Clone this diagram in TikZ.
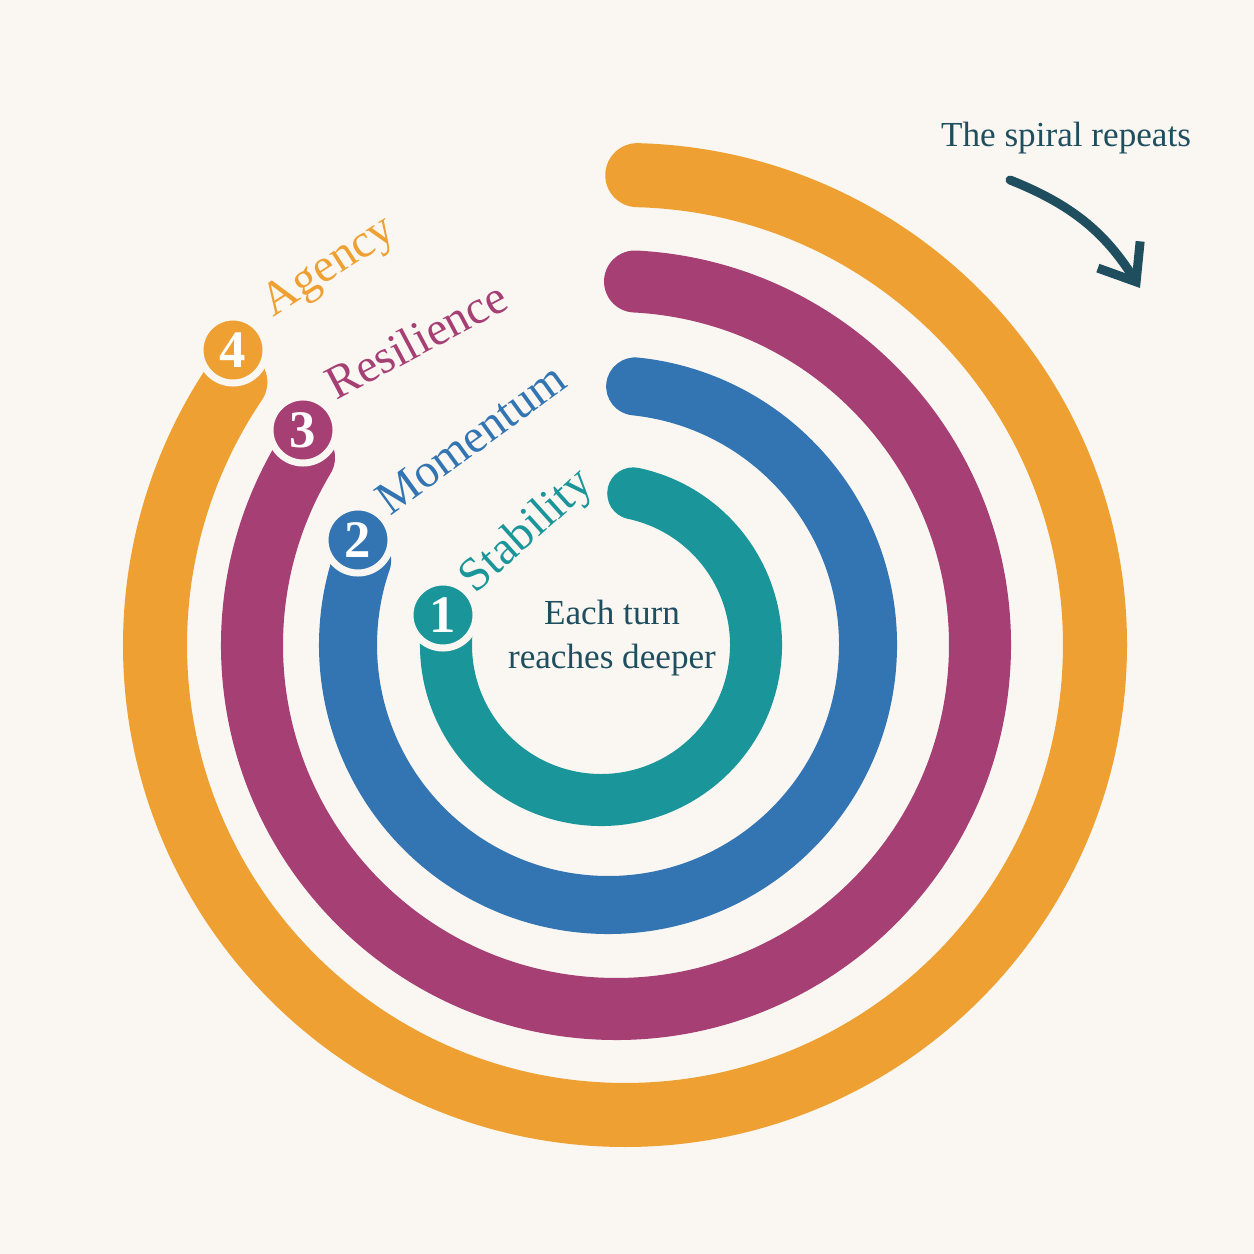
\documentclass[tikz,border=0pt]{standalone}
\usepackage{fontspec}
\setmainfont{Liberation Serif}
\usetikzlibrary{arrows.meta}
\definecolor{bg}{HTML}{FAF7F2}
\definecolor{cteal}{HTML}{1A9599}
\definecolor{cblue}{HTML}{3375B2}
\definecolor{cmag}{HTML}{A63F74}
\definecolor{corange}{HTML}{EEA132}
\definecolor{cdark}{HTML}{1F4E5F}
\tikzset{
  band/.style={line width=#1, line cap=round},
  badge/.style={circle, fill=#1, draw=bg, line width=0.07cm, minimum size=0.66cm, inner sep=0pt,
    text=white, font=\fontsize{15}{15}\selectfont\bfseries},
  steplabel/.style={text=#1, font=\fontsize{13.5}{15}\selectfont}
}
\begin{document}
\begin{tikzpicture}[x=0.01cm,y=0.01cm]
      \fill[bg] (0,0) rectangle (1254,1254);
      \useasboundingbox (0,0) rectangle (1254,1254);

      % bands
      \draw[band=0.52cm, cteal]   (601,609) ++(78:155) arc[start angle=78, end angle=-188, radius=155];
      \draw[band=0.58cm, cblue]   (608,609) ++(84:260) arc[start angle=84, end angle=-199, radius=260];
      \draw[band=0.62cm, cmag]    (616,609) ++(87:364) arc[start angle=87, end angle=-211, radius=364];
      \draw[band=0.64cm, corange] (625,609) ++(88.5:470) arc[start angle=88.5, end angle=-214, radius=470];

      % badges
      \node[badge=cteal]   (b1) at (443,639) {1};
      \node[badge=cblue]   (b2) at (358,714) {2};
      \node[badge=cmag]    (b3) at (303,824) {3};
      \node[badge=corange] (b4) at (233,904) {4};

      % labels
      \node[steplabel=cteal, rotate=42]   (l1) at (528,722) {Stability};
      \node[steplabel=cblue, rotate=36]   (l2) at (471,815) {Momentum};
      \node[steplabel=cmag, rotate=28]    (l3) at (416,914) {Resilience};
      \node[steplabel=corange, rotate=33] (l4) at (330,986) {Agency};

      % centre text
      \node[text=cdark, align=center, font=\fontsize{10}{12.5}\selectfont] (mid) at (612,616)
        {Each turn\\reaches deeper};

      % repeat note
      \node[text=cdark, font=\fontsize{10}{12}\selectfont] (note) at (1066,1116) {The spiral repeats};
      \coordinate (a0) at (1010,1074);
      \coordinate (a1) at (1140,966);
      \draw[cdark, line width=0.09cm, line cap=round, -{Straight Barb[length=0.32cm,width=0.5cm]}]
        (a0) to[bend left=18] (a1);
\end{tikzpicture}
\end{document}
